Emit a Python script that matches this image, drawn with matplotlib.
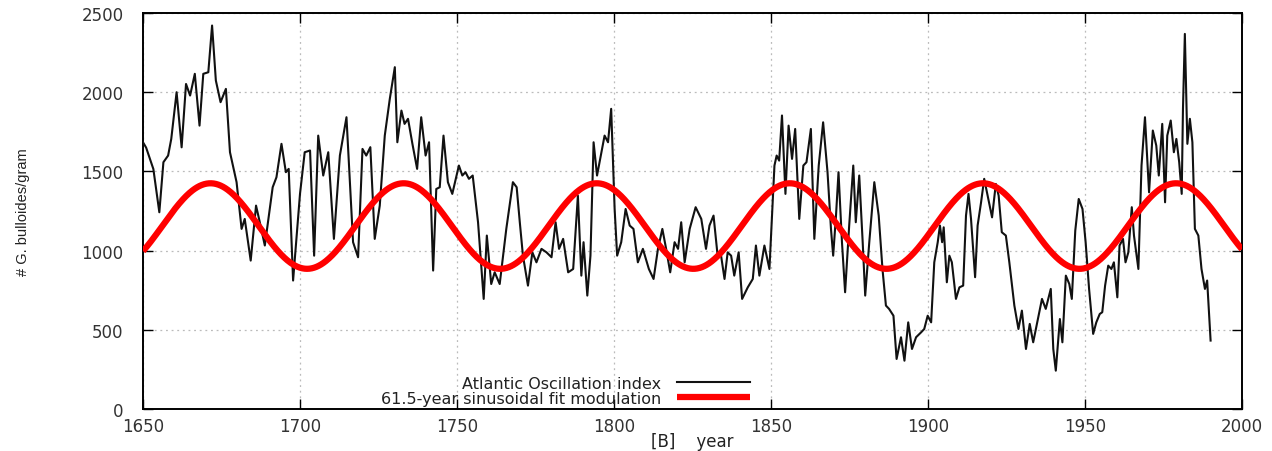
import numpy as np
import matplotlib
matplotlib.use("Agg")
import matplotlib.pyplot as plt

# Atlantic Oscillation index (G. bulloides counts per gram), by year
years = [
    1650.0, 1651.0, 1653.3, 1655.2, 1656.5, 1658.0, 1659.0, 1660.7, 1662.3, 1663.7,
    1665.0, 1666.5, 1668.0, 1669.2, 1670.8, 1672.0, 1673.2, 1674.7, 1676.4, 1677.7,
    1679.8, 1681.4, 1682.4, 1684.3, 1686.0, 1687.2, 1688.8, 1691.3, 1692.5, 1694.1,
    1695.5, 1696.4, 1697.8, 1700.0, 1701.5, 1703.2, 1704.5, 1705.8, 1707.4, 1709.0,
    1710.8, 1712.7, 1714.8, 1716.9, 1718.5, 1719.9, 1721.1, 1722.4, 1723.8, 1725.4,
    1727.0, 1728.6, 1730.2, 1731.0, 1732.3, 1733.3, 1734.4, 1735.8, 1737.3, 1738.6,
    1740.0, 1741.1, 1742.4, 1743.4, 1744.5, 1745.7, 1747.1, 1748.5, 1750.6, 1751.7,
    1752.7, 1753.8, 1755.0, 1756.7, 1758.5, 1759.5, 1760.9, 1762.0, 1763.6, 1765.7,
    1767.8, 1769.0, 1770.0, 1771.0, 1772.6, 1774.0, 1775.3, 1776.9, 1778.5, 1780.1,
    1781.4, 1782.5, 1783.8, 1785.4, 1787.0, 1788.5, 1789.6, 1790.3, 1791.5, 1792.5,
    1793.5, 1794.6, 1796.0, 1797.0, 1798.1, 1799.1, 1800.2, 1801.0, 1802.3, 1803.7,
    1805.0, 1806.2, 1807.6, 1809.2, 1811.1, 1812.6, 1814.0, 1815.4, 1816.6, 1817.9,
    1819.3, 1820.4, 1821.4, 1822.5, 1824.1, 1826.0, 1827.8, 1829.3, 1830.4, 1831.7,
    1833.0, 1834.1, 1835.2, 1836.2, 1837.3, 1838.3, 1839.7, 1840.8, 1842.6, 1844.2,
    1845.2, 1846.3, 1847.9, 1849.5, 1851.1, 1851.8, 1852.6, 1853.5, 1854.6, 1855.6,
    1856.7, 1857.7, 1859.0, 1860.3, 1861.3, 1862.7, 1863.8, 1865.2, 1866.6, 1868.0,
    1869.1, 1869.8, 1870.7, 1871.5, 1872.6, 1873.6, 1874.9, 1876.2, 1877.0, 1878.1,
    1879.2, 1880.0, 1881.3, 1882.9, 1884.3, 1885.5, 1886.6, 1887.6, 1889.0, 1890.0,
    1891.4, 1892.5, 1893.7, 1894.9, 1896.2, 1897.8, 1898.8, 1899.9, 1901.0, 1902.0,
    1903.1, 1903.8, 1904.5, 1905.0, 1906.0, 1906.8, 1907.6, 1908.9, 1910.0, 1911.2,
    1912.1, 1912.9, 1913.7, 1915.0, 1915.8, 1916.9, 1917.9, 1919.0, 1920.4, 1921.6,
    1922.5, 1923.5, 1924.8, 1925.9, 1927.5, 1928.8, 1929.9, 1931.2, 1932.4, 1933.5,
    1934.9, 1936.3, 1937.5, 1939.1, 1939.9, 1940.7, 1942.0, 1942.8, 1943.9, 1945.0,
    1945.8, 1946.9, 1948.0, 1949.2, 1950.2, 1951.3, 1952.6, 1953.6, 1954.7, 1955.5,
    1956.4, 1957.4, 1958.4, 1959.2, 1960.3, 1961.0, 1962.1, 1962.9, 1963.8, 1964.9,
    1965.6, 1967.0, 1968.0, 1969.1, 1970.4, 1971.6, 1972.7, 1973.5, 1974.6, 1975.5,
    1976.2, 1977.3, 1978.3, 1979.1, 1980.0, 1980.8, 1981.2, 1981.8, 1982.6, 1983.4,
    1984.2, 1985.0, 1986.1, 1987.1, 1988.2, 1988.9, 1990.0,
]
index_values = [
    1684, 1650, 1515, 1242, 1558, 1600, 1705, 2000, 1652, 2052,
    1979, 2116, 1789, 2116, 2126, 2421, 2074, 1937, 2021, 1621,
    1432, 1137, 1200, 937, 1284, 1179, 1032, 1400, 1463, 1674,
    1495, 1516, 811, 1358, 1621, 1632, 968, 1726, 1474, 1621,
    1074, 1600, 1842, 1053, 958, 1642, 1600, 1653, 1074, 1284,
    1726, 1958, 2158, 1684, 1884, 1800, 1832, 1674, 1516, 1842,
    1600, 1684, 874, 1389, 1400, 1726, 1432, 1358, 1537, 1474,
    1495, 1453, 1474, 1179, 695, 1095, 789, 863, 789, 1137,
    1432, 1400, 1179, 968, 779, 989, 926, 1011, 989, 958,
    1179, 1011, 1074, 863, 884, 1347, 842, 1053, 716, 968,
    1684, 1474, 1621, 1726, 1684, 1895, 1263, 968, 1053, 1263,
    1158, 1137, 926, 1011, 884, 821, 1011, 1137, 1011, 863,
    1053, 1011, 1179, 926, 1137, 1274, 1200, 1011, 1158, 1221,
    968, 968, 821, 989, 968, 842, 989, 695, 768, 821,
    1032, 842, 1032, 884, 1537, 1600, 1568, 1853, 1358, 1789,
    1579, 1768, 1200, 1537, 1558, 1768, 1074, 1537, 1810, 1495,
    1137, 968, 1221, 1495, 1053, 737, 1158, 1537, 1179, 1474,
    1053, 716, 1053, 1432, 1221, 884, 653, 632, 589, 316,
    453, 305, 547, 379, 453, 484, 505, 589, 547, 926,
    1053, 1158, 1053, 1147, 800, 968, 926, 695, 768, 779,
    1221, 1358, 1200, 832, 1158, 1305, 1453, 1347, 1210, 1421,
    1347, 1116, 1095, 926, 653, 505, 621, 379, 537, 421,
    558, 695, 632, 758, 379, 242, 568, 421, 842, 789,
    695, 1126, 1326, 1263, 1053, 758, 474, 547, 600, 611,
    779, 905, 884, 926, 705, 1032, 1074, 926, 989, 1274,
    1095, 884, 1537, 1842, 1368, 1758, 1663, 1474, 1800, 1305,
    1726, 1821, 1621, 1705, 1558, 1358, 1895, 2368, 1674, 1832,
    1684, 1137, 1095, 884, 758, 811, 432,
]

# 61.5-year sinusoidal fit parameters
fit_period = 61.5
fit_mean = 1155.0
fit_amplitude = 270.0
fit_peak_year = 1671.5

x_ticks = [1650, 1700, 1750, 1800, 1850, 1900, 1950, 2000]
y_ticks = [0, 500, 1000, 1500, 2000, 2500]

fit_years = np.linspace(1650, 2000, 1401)
fit_values = fit_mean + fit_amplitude * np.cos(2 * np.pi * (fit_years - fit_peak_year) / fit_period)

fig = plt.figure(figsize=(12.72, 4.52), dpi=100)
ax = fig.add_axes([143 / 1272, 42 / 452, 1099 / 1272, 396 / 452])

ax.plot(years, index_values, color="#111111", lw=1.5, label="Atlantic Oscillation index", zorder=3)
ax.plot(fit_years, fit_values, color="#ff0000", lw=4.5, label="61.5-year sinusoidal fit modulation",
        solid_capstyle="butt", zorder=4)

ax.set_xlim(1650, 2000)
ax.set_ylim(0, 2500)
ax.set_xticks(x_ticks)
ax.set_yticks(y_ticks)
ax.grid(True, color="#bbbbbb", linestyle=(0, (1.5, 3)), linewidth=0.9)
ax.tick_params(direction="in", top=True, right=True, length=7, width=1.0,
               labelsize=12, pad=6, colors="black")
ax.tick_params(axis="y", pad=14)
for lbl in ax.get_xticklabels() + ax.get_yticklabels():
    lbl.set_color("#333333")
for sp in ax.spines.values():
    sp.set_linewidth(1.4)

ax.set_xlabel("[B]    year", fontsize=12, color="#222222")
ax.xaxis.set_label_coords(0.5, -0.058)
ax.set_ylabel("# G. bulloides/gram", fontsize=10.5, color="#222222",
              family=["Liberation Sans", "DejaVu Sans"])
ax.yaxis.set_label_coords(-0.103, 0.5)

leg = ax.legend(loc="lower right", bbox_to_anchor=(0.560, -0.012), frameon=False,
                markerfirst=False, fontsize=11.5, handlelength=4.6, handletextpad=1.0,
                labelspacing=0.0, borderpad=0.0)
for t in leg.get_texts():
    t.set_color("#222222")

fig.savefig("out.png", dpi=100)
